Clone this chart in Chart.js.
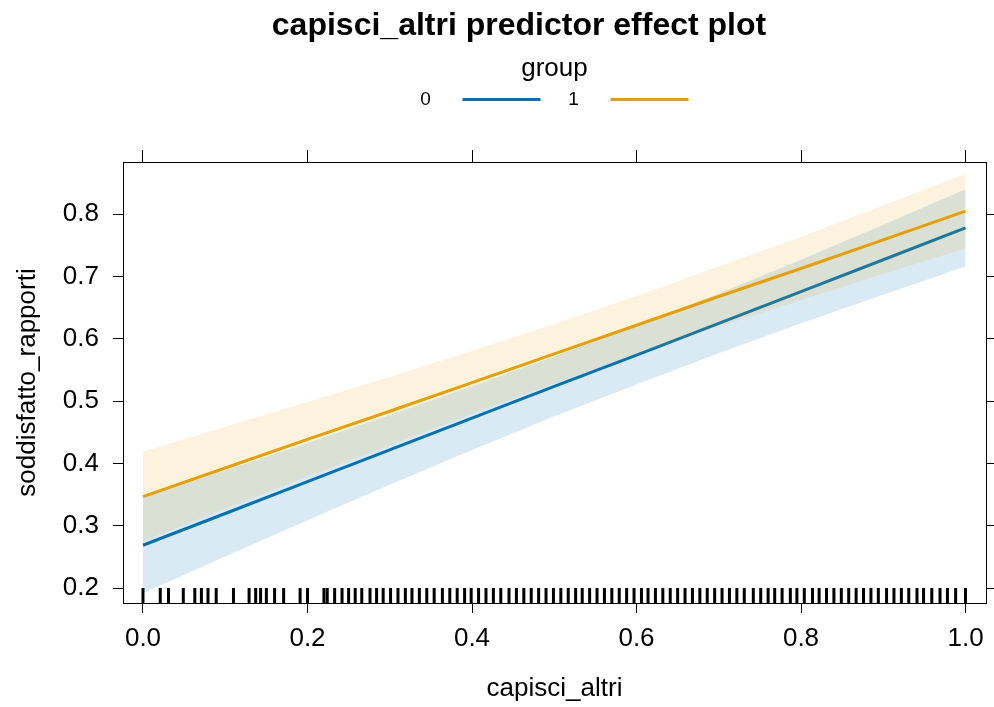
<!DOCTYPE html>
<html>
<head>
<meta charset="utf-8">
<script src="https://cdn.jsdelivr.net/npm/chart.js@4"></script>
<style>
  body { margin: 0; background: #fff; }
  #wrap { width: 994px; height: 707px; }
</style>
</head>
<body>
<div id="wrap"><canvas id="chart" width="994" height="707"></canvas></div>
<script>
// predictor values where the fit and bands are evaluated
var xs = [0, 0.1, 0.2, 0.3, 0.4, 0.5, 0.6, 0.7, 0.8, 0.9, 1];

// group 0
var fit0   = [0.269, 0.320, 0.371, 0.422, 0.473, 0.524, 0.574, 0.625, 0.676, 0.727, 0.778];
var lower0 = [0.192, 0.251, 0.309, 0.366, 0.422, 0.476, 0.527, 0.577, 0.625, 0.671, 0.716];
var upper0 = [0.346, 0.389, 0.433, 0.478, 0.524, 0.572, 0.621, 0.673, 0.727, 0.783, 0.840];

// group 1
var fit1   = [0.347, 0.393, 0.439, 0.484, 0.530, 0.576, 0.622, 0.668, 0.713, 0.759, 0.805];
var lower1 = [0.275, 0.327, 0.379, 0.429, 0.479, 0.528, 0.575, 0.620, 0.662, 0.704, 0.745];
var upper1 = [0.419, 0.459, 0.499, 0.539, 0.581, 0.624, 0.669, 0.716, 0.764, 0.814, 0.865];

// observed capisci_altri values (rug)
var rug = [0.000, 0.021, 0.031, 0.049, 0.063, 0.071, 0.079, 0.089, 0.110, 0.129, 0.137, 0.143, 0.150,
  0.160, 0.171, 0.191, 0.200, 0.220, 0.224, 0.233, 0.242, 0.250, 0.258, 0.266, 0.276, 0.284, 0.292,
  0.301, 0.310, 0.319, 0.327, 0.336, 0.345, 0.354, 0.364, 0.373, 0.382, 0.391, 0.399, 0.408, 0.417,
  0.426, 0.435, 0.445, 0.454, 0.463, 0.472, 0.481, 0.490, 0.499, 0.508, 0.517, 0.526, 0.534, 0.543,
  0.552, 0.561, 0.570, 0.579, 0.588, 0.597, 0.606, 0.614, 0.623, 0.632, 0.641, 0.650, 0.659, 0.668,
  0.677, 0.686, 0.695, 0.704, 0.713, 0.722, 0.731, 0.742, 0.751, 0.760, 0.768, 0.777, 0.787, 0.795,
  0.804, 0.814, 0.822, 0.831, 0.840, 0.849, 0.858, 0.867, 0.876, 0.885, 0.894, 0.904, 0.913, 0.922,
  0.931, 0.941, 0.949, 0.959, 0.969, 0.978, 0.988, 1.000];

var xTicks = [0, 0.2, 0.4, 0.6, 0.8, 1.0];
var yTicks = [0.2, 0.3, 0.4, 0.5, 0.6, 0.7, 0.8];
var groups = ['0', '1'];

var BLUE = '#0072B2', ORANGE = '#E69F00';
var FONT = '"Liberation Sans", Arial, Helvetica, sans-serif';

function pts(ys) {
	return xs.map(function(x, i) { return {x: x, y: ys[i]}; });
}

function band(ys, order, fill, color) {
	return {
		data: pts(ys), order: order, fill: fill, backgroundColor: color,
		borderWidth: 0, pointRadius: 0
	};
}

function fixTicks(values) {
	return function(scale) {
		scale.ticks = values.map(function(v) { return {value: v}; });
	};
}

// title, legend header and rug ticks
var decorations = {
	id: 'decorations',
	afterDatasetsDraw: function(chart) {
		var ctx = chart.ctx, area = chart.chartArea;
		var xs = chart.scales.x;
		ctx.save();
		ctx.strokeStyle = '#000';
		ctx.lineWidth = 3;
		rug.forEach(function(v) {
			var px = xs.getPixelForValue(v);
			ctx.beginPath();
			ctx.moveTo(px, area.bottom);
			ctx.lineTo(px, area.bottom - 15);
			ctx.stroke();
		});
		ctx.restore();
	},
	afterDraw: function(chart) {
		var ctx = chart.ctx, area = chart.chartArea;
		var cx = (area.left + area.right) / 2;
		ctx.save();
		ctx.fillStyle = '#000';
		ctx.textBaseline = 'middle';
		ctx.textAlign = 'center';

		ctx.font = 'bold 32px ' + FONT;
		ctx.fillText('capisci_altri predictor effect plot', 519, 26);

		ctx.font = '26px ' + FONT;
		ctx.fillText('group', cx, 69);

		var colors = [BLUE, ORANGE];
		ctx.font = '19px ' + FONT;
		groups.forEach(function(g, i) {
			var off = i * 148;
			ctx.fillStyle = '#000';
			ctx.fillText(g, cx - 129 + off, 100);
			ctx.strokeStyle = colors[i];
			ctx.lineWidth = 3;
			ctx.beginPath();
			ctx.moveTo(cx - 92 + off, 99.5);
			ctx.lineTo(cx - 14 + off, 99.5);
			ctx.stroke();
		});
		ctx.restore();
	}
};

var tickFont = {family: FONT, size: 26};
var titleFont = {family: FONT, size: 26};

new Chart(document.getElementById('chart'), {
	type: 'line',
	data: {
		datasets: [
			band(lower0, 6, false, 'transparent'),
			band(upper0, 5, '-1', 'rgba(0,114,178,0.15)'),
			{data: pts(fit0), order: 4, borderColor: BLUE, borderWidth: 3, pointRadius: 0, fill: false},
			band(lower1, 3, false, 'transparent'),
			band(upper1, 2, '-1', 'rgba(230,159,0,0.13)'),
			{data: pts(fit1), order: 1, borderColor: ORANGE, borderWidth: 3, pointRadius: 0, fill: false}
		]
	},
	options: {
		responsive: false,
		animation: false,
		layout: {padding: {top: 150, left: 0, right: 0, bottom: 0}},
		plugins: {
			legend: {display: false},
			tooltip: {enabled: false}
		},
		scales: {
			x: {
				type: 'linear', position: 'bottom', min: -0.0243, max: 1.0249,
				afterBuildTicks: fixTicks(xTicks),
				afterFit: function(s) { s.height = 104; },
				border: {color: '#000', width: 1},
				grid: {drawOnChartArea: false, tickLength: 10, tickColor: '#000', tickWidth: 1},
				ticks: {color: '#000', font: tickFont, padding: 10, maxRotation: 0,
					callback: function(v) { return v.toFixed(1); }},
				title: {display: true, text: 'capisci_altri', color: '#000', font: titleFont,
					padding: {top: 0, bottom: 3}}
			},
			x2: {
				type: 'linear', position: 'top', min: -0.0243, max: 1.0249,
				afterBuildTicks: fixTicks(xTicks),
				afterFit: function(s) { s.height = 12; },
				border: {color: '#000', width: 1},
				grid: {drawOnChartArea: false, tickLength: 12, tickColor: '#000', tickWidth: 1},
				ticks: {display: false}
			},
			y: {
				type: 'linear', position: 'left', min: 0.1764, max: 0.8838,
				afterBuildTicks: fixTicks(yTicks),
				afterFit: function(s) { s.width = 123; },
				border: {color: '#000', width: 1},
				grid: {drawOnChartArea: false, tickLength: 10, tickColor: '#000', tickWidth: 1},
				ticks: {color: '#000', font: tickFont, padding: 14,
					callback: function(v) { return v.toFixed(1); }},
				title: {display: true, text: 'soddisfatto_rapporti', color: '#000', font: titleFont,
					padding: {top: 12, bottom: 0}}
			},
			y2: {
				type: 'linear', position: 'right', min: 0.1764, max: 0.8838,
				afterBuildTicks: fixTicks(yTicks),
				afterFit: function(s) { s.width = 8; },
				border: {color: '#000', width: 1},
				grid: {drawOnChartArea: false, tickLength: 8, tickColor: '#000', tickWidth: 1},
				ticks: {display: false}
			}
		}
	},
	plugins: [decorations]
});
</script>
</body>
</html>
